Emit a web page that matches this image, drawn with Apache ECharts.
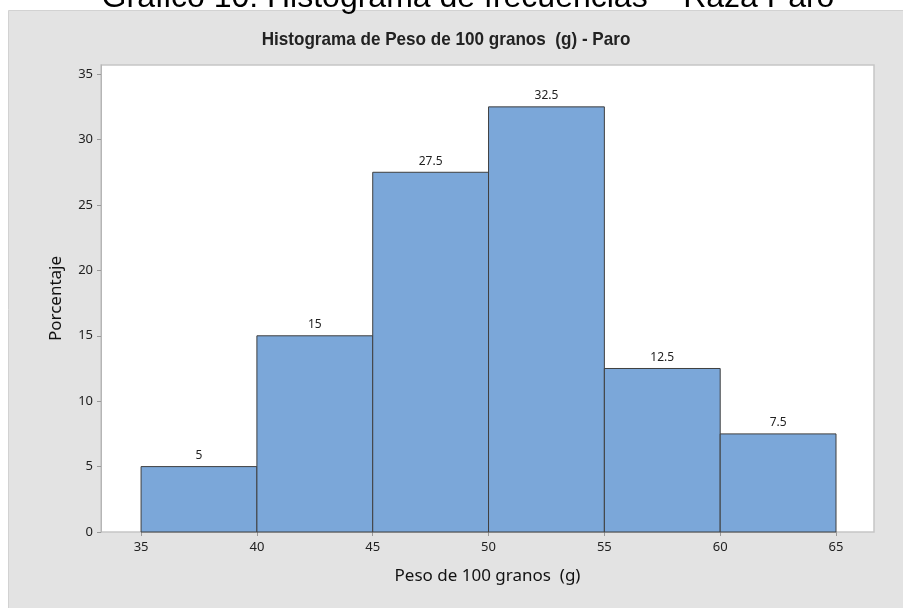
<!DOCTYPE html>
<html>
<head>
<meta charset="utf-8">
<script src="https://cdn.jsdelivr.net/npm/echarts@6/dist/echarts.min.js"></script>
<style>html,body{margin:0;padding:0;background:#fff}#c{width:903px;height:608px}</style>
</head>
<body>
<div id="c"></div>
<script>
const pageTitle = 'Gráfico 10: Histograma de frecuencias – Raza Paro';
const chartTitle = 'Histograma de Peso de 100 granos  (g) - Paro';
const xName = 'Peso de 100 granos  (g)';
const yName = 'Porcentaje';
const binEdges = [35, 40, 45, 50, 55, 60, 65];
const percentages = [5, 15, 27.5, 32.5, 12.5, 7.5];
const xTicks = [35, 40, 45, 50, 55, 60, 65];
const yTicks = [0, 5, 10, 15, 20, 25, 30, 35];

const data = percentages.map((p, i) => [binEdges[i], binEdges[i + 1], p]);

const chart = echarts.init(document.getElementById('c'));
chart.setOption({
  animation: false,
  backgroundColor: '#ffffff',
  graphic: [
    { type: 'rect', left: 8, top: 10, shape: { width: 895, height: 598 }, style: { fill: '#e3e3e3', stroke: '#d2d2d2', lineWidth: 1 }, z: -10 },
    { type: 'text', x: 468, y: 14, style: { text: pageTitle, font: '32px "Liberation Sans", Arial, sans-serif', fill: '#000', align: 'center', verticalAlign: 'bottom' }, z: 10 },
    { type: 'text', x: 446, y: 40, scaleX: 0.9, style: { text: chartTitle, font: 'bold 19px "Liberation Sans", Arial, sans-serif', fill: '#222', align: 'center', verticalAlign: 'middle' }, z: 10 }
  ],
  grid: { left: 101, right: 29, top: 65, bottom: 76, show: true, backgroundColor: '#ffffff', borderColor: '#c6c6c6', borderWidth: 1.5 },
  xAxis: {
    type: 'value', min: 33.27, max: 66.64,
    name: xName, nameLocation: 'middle', nameGap: 36,
    nameTextStyle: { fontFamily: 'Noto Sans', fontSize: 17, color: '#111' },
    axisLine: { show: false },
    axisTick: { show: true, length: 4, lineStyle: { color: '#999' }, customValues: xTicks },
    axisLabel: { customValues: xTicks, fontFamily: 'Noto Sans', fontSize: 13, color: '#222', margin: 9 },
    splitLine: { show: false }
  },
  yAxis: {
    type: 'value', min: 0, max: 35.7,
    name: yName, nameLocation: 'middle', nameGap: 36,
    nameTextStyle: { fontFamily: 'Noto Sans', fontSize: 17, color: '#111' },
    axisLine: { show: true, lineStyle: { color: '#b5b5b5' } },
    axisTick: { show: true, length: 4, lineStyle: { color: '#999' }, customValues: yTicks },
    axisLabel: { customValues: yTicks, fontFamily: 'Noto Sans', fontSize: 13, color: '#222', margin: 8 },
    splitLine: { show: false }
  },
  series: [{
    type: 'custom',
    data: data,
    encode: { x: [0, 1], y: 2 },
    renderItem: function (params, api) {
      const p0 = api.coord([api.value(0), 0]);
      const p1 = api.coord([api.value(1), api.value(2)]);
      return {
        type: 'group',
        children: [
          { type: 'rect', shape: { x: p0[0], y: p1[1], width: p1[0] - p0[0], height: p0[1] - p1[1] },
            style: { fill: '#7ba7d9', stroke: '#3f3f3f', lineWidth: 1 } },
          { type: 'text', x: (p0[0] + p1[0]) / 2, y: p1[1] - 5,
            style: { text: String(api.value(2)), font: '12px "Noto Sans", sans-serif', fill: '#222', align: 'center', verticalAlign: 'bottom' } }
        ]
      };
    }
  }]
});
</script>
</body>
</html>
